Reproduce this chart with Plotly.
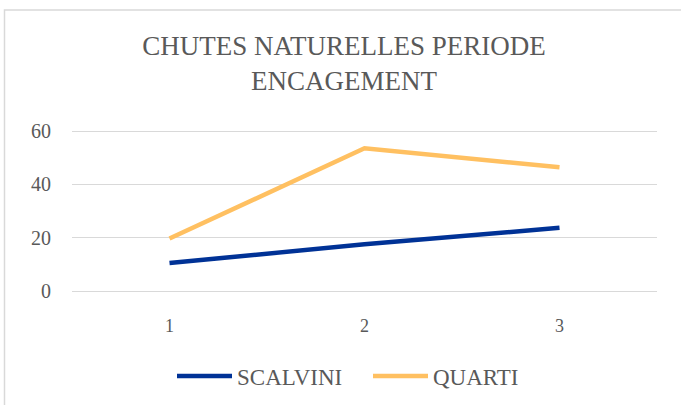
import plotly.graph_objects as go

# Data
categories = ["1", "2", "3"]
scalvini = [10.5, 17.5, 23.7]
quarti = [19.7, 53.5, 46.4]
y_ticks = [0, 20, 40, 60]

font_family = "Liberation Serif, DejaVu Serif, serif"
text_color = "#595959"

W, H = 681, 405
M_L, M_R, M_T, M_B = 72, 24, 129, 112
plot_w = W - M_L - M_R
plot_h = H - M_T - M_B

fig = go.Figure()
fig.add_trace(go.Scatter(x=categories, y=scalvini, name="SCALVINI", mode="lines",
                         line=dict(color="#003296", width=4.5)))
fig.add_trace(go.Scatter(x=categories, y=quarti, name="QUARTI", mode="lines",
                         line=dict(color="#FFC061", width=4.5)))

# chart border (Excel chart area), cropped at right and bottom
fig.add_shape(type="rect", xref="paper", yref="paper",
              x0=(4.5 - M_L) / plot_w, x1=(W + 20 - M_L) / plot_w,
              y0=(H - M_B - (H + 20)) / plot_h, y1=(H - M_B - 10) / plot_h,
              line=dict(color="#D9D9D9", width=1.5), layer="below")

fig.update_layout(
    width=W, height=H,
    margin=dict(l=M_L, r=M_R, t=M_T, b=M_B),
    paper_bgcolor="white", plot_bgcolor="white",
    font=dict(family=font_family, color=text_color),
    title=dict(text="CHUTES NATURELLES PERIODE<br>ENCAGEMENT",
               x=344 / W, xanchor="center", y=1 - 55 / H, yanchor="middle",
               font=dict(size=27, color=text_color, family=font_family)),
    showlegend=True,
    legend=dict(orientation="h", xref="container", yref="container",
                x=172 / W, xanchor="left", y=1 - 376 / H, yanchor="middle",
                font=dict(size=23, color=text_color), itemwidth=55,
                entrywidth=126, entrywidthmode="pixels",
                bgcolor="rgba(0,0,0,0)"),
    xaxis=dict(type="category", range=[-0.5, 2.5], showgrid=False, zeroline=False,
               showline=False, ticks="", tickfont=dict(size=18, color=text_color),
               ticklabelstandoff=20, automargin=False),
    yaxis=dict(range=[-0.75, 60.75], tickvals=y_ticks, showgrid=True, gridcolor="#D9D9D9",
               gridwidth=1.2, zeroline=False, showline=False, ticks="",
               tickfont=dict(size=20, color=text_color), ticklabelstandoff=20,
               automargin=False),
)

# remove the default page margin so the figure sits at the window's top-left corner
fig.write_html("out.html", config={"displayModeBar": False},
               post_script="document.body.style.margin='0';")
